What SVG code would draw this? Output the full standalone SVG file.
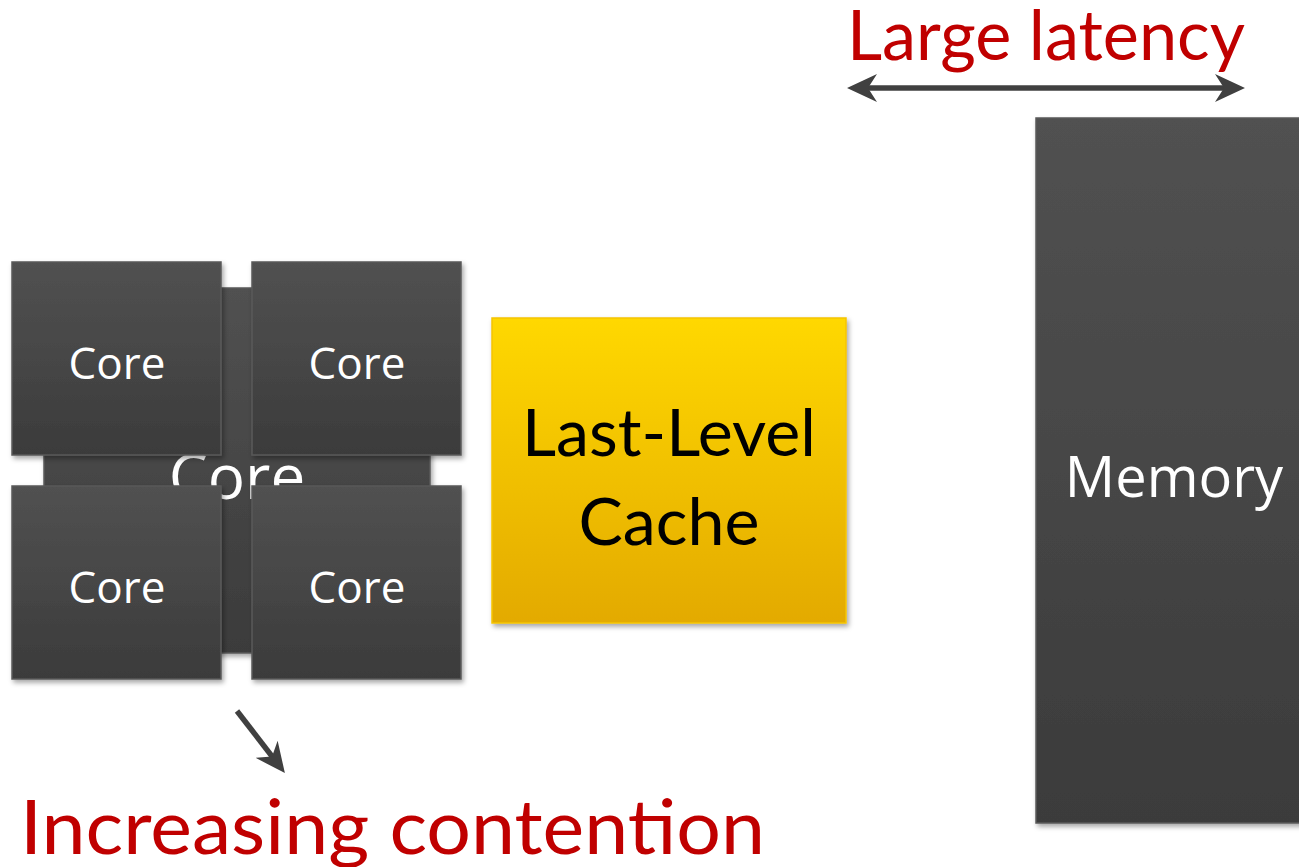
<svg xmlns="http://www.w3.org/2000/svg" width="1299" height="867" viewBox="0 0 1299 867">
  <style>
    .dark { fill: url(#gDark); stroke: #5a5a5a; stroke-width: 1.5; filter: url(#shadow); }
    .coreTxt { font-family: "Open Sans", "Noto Sans", sans-serif; font-size: 44px; fill: #ffffff; text-anchor: middle; }
    .calibri { font-family: Lato, "Open Sans", sans-serif; }
    .red { fill: #c00000; }
    .conn { stroke: #404040; fill: none; }
  </style>
  <defs>
    <linearGradient id="gDark" x1="0" y1="0" x2="0" y2="1">
      <stop offset="0" stop-color="#515151"/>
      <stop offset="1" stop-color="#3b3b3b"/>
    </linearGradient>
    <linearGradient id="gGold" x1="0" y1="0" x2="0" y2="1">
      <stop offset="0" stop-color="#ffd800"/>
      <stop offset="1" stop-color="#e3aa00"/>
    </linearGradient>
    <filter id="shadow" x="-10%" y="-10%" width="125%" height="125%">
      <feDropShadow dx="2" dy="3" stdDeviation="2.5" flood-color="#000" flood-opacity="0.35"/>
    </filter>
    <marker id="head" viewBox="0 0 30 28" refX="22" refY="14" markerWidth="30" markerHeight="28" markerUnits="userSpaceOnUse" orient="auto-start-reverse">
      <path d="M0,0 L30,14 L0,28 L9,14 z" fill="#404040"/>
    </marker>
  </defs>

  <!-- background core, mostly hidden behind the four cores -->
  <g id="core-back">
    <rect class="dark" x="44" y="288" width="386" height="365"/>
    <text class="coreTxt" x="237" y="499" style="font-size:62px">Core</text>
  </g>

  <g id="core-1">
    <rect class="dark" x="12" y="262" width="209" height="193"/>
    <text class="coreTxt" x="117" y="379">Core</text>
  </g>
  <g id="core-2">
    <rect class="dark" x="252" y="262" width="209" height="193"/>
    <text class="coreTxt" x="357" y="379">Core</text>
  </g>
  <g id="core-3">
    <rect class="dark" x="12" y="486" width="209" height="193"/>
    <text class="coreTxt" x="117" y="603">Core</text>
  </g>
  <g id="core-4">
    <rect class="dark" x="252" y="486" width="209" height="193"/>
    <text class="coreTxt" x="357" y="603">Core</text>
  </g>

  <g id="llc">
    <rect x="492" y="318" width="354" height="305" fill="url(#gGold)" stroke="#f5c400" stroke-width="1.5" filter="url(#shadow)"/>
    <text class="calibri" x="669" y="456" font-size="66" fill="#000" text-anchor="middle" textLength="294" lengthAdjust="spacingAndGlyphs">Last-Level</text>
    <text class="calibri" x="669" y="545" font-size="66" fill="#000" text-anchor="middle" textLength="181" lengthAdjust="spacingAndGlyphs">Cache</text>
  </g>

  <g id="memory">
    <rect class="dark" x="1036" y="118" width="280" height="705"/>
    <text class="coreTxt" x="1174" y="497" style="font-size:56px">Memory</text>
  </g>

  <g id="labels">
    <text class="calibri red" x="1046" y="60" font-size="69" text-anchor="middle" textLength="398" lengthAdjust="spacingAndGlyphs">Large latency</text>
    <text class="calibri red" x="20" y="854" font-size="75" textLength="745" lengthAdjust="spacingAndGlyphs">Increasing contention</text>
  </g>

  <g id="connectors">
    <path class="conn" d="M855,88 L1237,88" stroke-width="5.5" marker-start="url(#head)" marker-end="url(#head)"/>
    <path class="conn" d="M237,711 L280,766.7" stroke-width="5.5" marker-end="url(#head)"/>
  </g>
</svg>
